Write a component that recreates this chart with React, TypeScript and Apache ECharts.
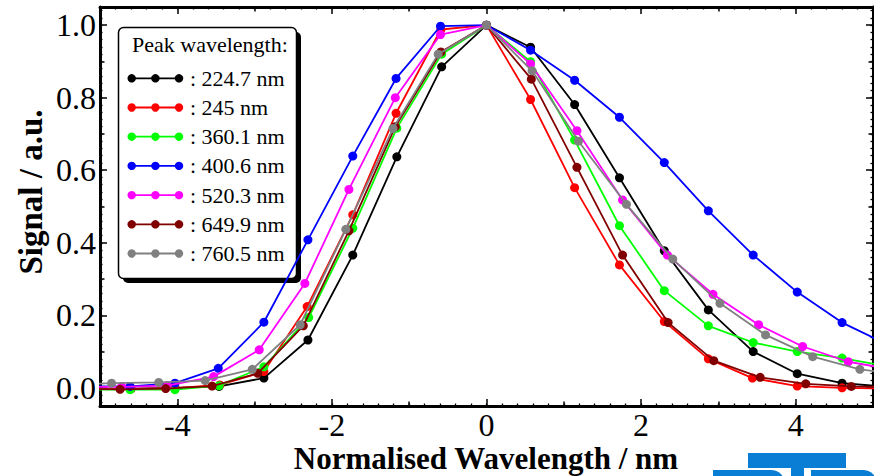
import React, { useEffect, useRef } from "react";
import * as echarts from "echarts";

// ---- data -------------------------------------------------------------
const seriesNames = ["224.7 nm", "245 nm", "360.1 nm", "400.6 nm", "520.3 nm", "649.9 nm", "760.5 nm"];
const seriesColors = ["#000000", "#ff0000", "#00ff00", "#0000ff", "#ff00ff", "#800000", "#808080"];

const x224 = [-5.18, -4.6, -4.03, -3.46, -2.88, -2.31, -1.73, -1.16, -0.58, 0, 0.57, 1.14, 1.72, 2.3, 2.87, 3.45, 4.02, 4.6, 5.18];
const y224 = [-0.003, -0.002, 0.0, 0.004, 0.027, 0.132, 0.366, 0.637, 0.885, 1.0, 0.939, 0.781, 0.579, 0.378, 0.215, 0.1, 0.039, 0.013, 0.003];

const x245 = [-5.18, -4.6, -4.03, -3.45, -2.88, -2.32, -1.73, -1.17, -0.59, 0, 0.57, 1.14, 1.72, 2.3, 2.87, 3.44, 4.02, 4.6, 5.18];
const y245 = [-0.003, -0.003, -0.001, 0.008, 0.045, 0.224, 0.477, 0.757, 0.988, 1.0, 0.795, 0.552, 0.339, 0.183, 0.08, 0.027, 0.005, 0.0, -0.002];

const x360 = [-5.18, -4.61, -4.03, -3.46, -2.88, -2.3, -1.73, -1.16, -0.58, 0, 0.57, 1.14, 1.72, 2.3, 2.87, 3.45, 4.02, 4.6, 5.18];
const y360 = [-0.005, -0.005, -0.005, 0.006, 0.058, 0.194, 0.44, 0.716, 0.92, 1.0, 0.899, 0.683, 0.447, 0.268, 0.171, 0.125, 0.1, 0.082, 0.06];

const x400 = [-5.18, -4.61, -4.03, -3.47, -2.88, -2.31, -1.73, -1.17, -0.595, 0, 0.57, 1.14, 1.72, 2.3, 2.87, 3.45, 4.02, 4.6, 5.18];
const y400 = [0.004, 0.004, 0.013, 0.054, 0.181, 0.408, 0.639, 0.853, 0.997, 1.0, 0.931, 0.848, 0.746, 0.621, 0.488, 0.366, 0.264, 0.18, 0.12];

const x520 = [-5.3, -4.72, -4.13, -3.53, -2.94, -2.35, -1.78, -1.18, -0.595, 0, 0.57, 1.17, 1.76, 2.34, 2.93, 3.52, 4.09, 4.68, 5.27];
const y520 = [0.002, 0.003, 0.006, 0.031, 0.105, 0.288, 0.547, 0.8, 0.974, 1.0, 0.893, 0.709, 0.518, 0.366, 0.258, 0.174, 0.114, 0.072, 0.05];

const x650 = [-5.33, -4.74, -4.15, -3.55, -2.96, -2.37, -1.78, -1.18, -0.59, 0, 0.58, 1.17, 1.76, 2.35, 2.94, 3.54, 4.13, 4.72, 5.31];
const y650 = [-0.003, -0.004, -0.002, 0.005, 0.04, 0.171, 0.433, 0.72, 0.926, 1.0, 0.851, 0.608, 0.366, 0.18, 0.075, 0.029, 0.011, 0.004, 0.002];

const x760 = [-5.45, -4.85, -4.24, -3.64, -3.03, -2.41, -1.82, -1.21, -0.625, 0, 0.59, 1.19, 1.81, 2.41, 3.02, 3.61, 4.22, 4.83, 5.43];
const y760 = [0.008, 0.013, 0.015, 0.02, 0.051, 0.174, 0.437, 0.715, 0.92, 1.0, 0.874, 0.68, 0.506, 0.355, 0.233, 0.146, 0.086, 0.051, 0.035];

const seriesX = [x224, x245, x360, x400, x520, x650, x760];
const seriesY = [y224, y245, y360, y400, y520, y650, y760];

const xMajorTicks = [-4, -2, 0, 2, 4];
const xMediumTicks = [-3, -1, 1, 3];
const yMajorTicks = [0, 0.2, 0.4, 0.6, 0.8, 1.0];
const yMediumTicks = [0.1, 0.3, 0.5, 0.7, 0.9];

const legendTitle = "Peak wavelength:";
const xTitle = "Normalised Wavelength / nm";
const yTitle = "Signal / a.u.";

// ---- helpers ----------------------------------------------------------
const xMinorTicks: number[] = [];
for (let i = -24; i <= 24; i++) xMinorTicks.push(+(i * 0.2).toFixed(2));
const yMinorTicks: number[] = [];
for (let i = -2; i <= 52; i++) yMinorTicks.push(+(i * 0.02).toFixed(2));

const SERIF = "Liberation Serif";
const X_MIN = -5, X_MAX = 5, Y_MIN = -0.05, Y_MAX = 1.05;

function tickAxis(kind: "x" | "y", position: string, values: number[], length: number, opts: any = {}) {
  const isX = kind === "x";
  return {
    type: "value",
    position,
    min: isX ? X_MIN : Y_MIN,
    max: isX ? X_MAX : Y_MAX,
    splitLine: { show: false },
    axisLine: { show: !!opts.line, onZero: false, lineStyle: { color: "#000", width: 3 } },
    axisTick: {
      show: true,
      inside: true,
      length,
      customValues: values,
      lineStyle: { color: "#000", width: opts.tickWidth || 1.5 },
    },
    axisLabel: opts.label
      ? {
          show: true,
          customValues: values,
          fontFamily: SERIF,
          fontSize: 32,
          color: "#000",
          margin: opts.margin,
          formatter: (v: number) => (isX ? String(v) : v.toFixed(1)),
        }
      : { show: false },
    silent: true,
  };
}

function txt(text: string, x: number, y: number, size: number, bold: boolean, align: string, rotation = 0) {
  return {
    type: "text",
    z: 100,
    x,
    y,
    rotation,
    style: {
      text,
      fontFamily: SERIF,
      fontSize: size,
      fontWeight: bold ? "bold" : "normal",
      fill: "#000",
      align,
      verticalAlign: "middle",
    },
  };
}

export default function App() {
  const ref = useRef<HTMLDivElement>(null);

  useEffect(() => {
    if (!ref.current) return;
    const chart = echarts.init(ref.current, null, { renderer: "svg" });

    const series = seriesNames.map((name, i) => ({
      name,
      type: "line",
      xAxisIndex: 0,
      yAxisIndex: 0,
      data: seriesX[i].map((x, j) => [x, seriesY[i][j]]),
      symbol: "circle",
      symbolSize: 9,
      showAllSymbol: true,
      clip: true,
      lineStyle: { color: seriesColors[i], width: 1.8 },
      itemStyle: { color: seriesColors[i] },
      z: 2 + i,
    }));

    const legendChildren: any[] = [
      { type: "rect", shape: { x: 123, y: 32, width: 178, height: 251, r: 5 }, style: { fill: "#000" } },
      {
        type: "rect",
        shape: { x: 118.5, y: 27.5, width: 178, height: 251, r: 5 },
        style: { fill: "#fff", stroke: "#000", lineWidth: 1.5 },
      },
      txt(legendTitle, 132, 44, 22, false, "left"),
    ];
    seriesNames.forEach((name, i) => {
      const cy = 78.3 + i * 29.2;
      const c = seriesColors[i];
      legendChildren.push({
        type: "line",
        shape: { x1: 131.7, y1: cy, x2: 179, y2: cy },
        style: { stroke: c, lineWidth: 1.8 },
      });
      [131.7, 155.4, 179].forEach((cx) =>
        legendChildren.push({ type: "circle", shape: { cx, cy, r: 4.2 }, style: { fill: c } })
      );
      legendChildren.push(txt(": " + name, 190, cy, 22, false, "left"));
    });

    const logoColor = "#0a7dd4";
    const logo: any[] = [
      { type: "rect", shape: { x: 748, y: 453, width: 98, height: 15 }, style: { fill: logoColor } },
      { type: "rect", shape: { x: 713, y: 470, width: 72, height: 20, r: [0, 14, 0, 0] }, style: { fill: logoColor } },
      { type: "rect", shape: { x: 791, y: 466, width: 13, height: 20 }, style: { fill: logoColor } },
      { type: "rect", shape: { x: 811, y: 470, width: 66, height: 20, r: [0, 14, 0, 0] }, style: { fill: logoColor } },
    ];

    const option: any = {
      animation: false,
      backgroundColor: "#ffffff",
      textStyle: { fontFamily: SERIF },
      grid: { left: 100, top: 7, width: 773, height: 399, containLabel: false },
      xAxis: [
        tickAxis("x", "bottom", xMajorTicks, 7, { line: true, label: true, margin: 3 }),
        tickAxis("x", "bottom", xMediumTicks, 4.5),
        tickAxis("x", "bottom", xMinorTicks, 2.5, { tickWidth: 1.3 }),
        tickAxis("x", "top", xMajorTicks, 7, { line: true }),
        tickAxis("x", "top", xMediumTicks, 4.5),
        tickAxis("x", "top", xMinorTicks, 2.5, { tickWidth: 1.3 }),
      ],
      yAxis: [
        tickAxis("y", "left", yMajorTicks, 7, { line: true, label: true, margin: 4 }),
        tickAxis("y", "left", yMediumTicks, 4.5),
        tickAxis("y", "left", yMinorTicks, 2.5, { tickWidth: 1.3 }),
        tickAxis("y", "right", yMajorTicks, 7, { line: true }),
        tickAxis("y", "right", yMediumTicks, 4.5),
        tickAxis("y", "right", yMinorTicks, 2.5, { tickWidth: 1.3 }),
      ],
      series,
      graphic: [
        { type: "group", z: 100, children: legendChildren },
        { type: "group", z: 100, children: logo },
        txt(xTitle, 486, 458, 31, true, "center"),
        txt(yTitle, 31, 192, 33, true, "center", Math.PI / 2),
      ],
    };

    chart.setOption(option);
    return () => chart.dispose();
  }, []);

  return (
    <div
      ref={ref}
      style={{ position: "fixed", left: 0, top: 0, width: 874, height: 476, background: "#fff" }}
    />
  );
}
